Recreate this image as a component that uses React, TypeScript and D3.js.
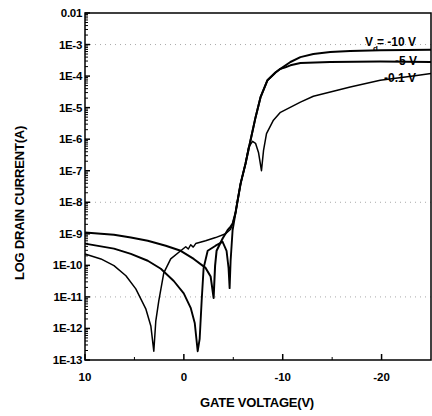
import React from "react";
import * as d3 from "d3";

// Gate voltage (V) and drain current (A) for each drain bias
const vgA = [10, 8.39, 7.07, 5.36, 3.65, 1.83, 0.32, -1.0, -2.2, -2.71, -3.01, -3.16, -3.31, -3.92, -4.42, -4.73,
  -4.93, -5.23, -5.43, -5.74, -6.24, -6.74, -7.25, -7.75, -8.46, -9.27, -9.77, -10.78, -11.79, -13.1, -14.81, -16.83, -19.86, -22.5, -25];
const idA = [1.1e-9, 1.0e-9, 9.3e-10, 7.6e-10, 6.0e-10, 4.2e-10, 2.9e-10, 1.6e-10, 8.3e-11, 4.4e-11, 9.3e-12, 9.8e-11, 2.9e-10, 7.1e-10, 1.3e-9, 1.7e-9,
  2.1e-9, 4.7e-9, 1.1e-8, 3.9e-8, 1.7e-7, 9.1e-7, 4.9e-6, 2.1e-5, 7.4e-5, 1.3e-4, 1.7e-4, 2.8e-4, 4.0e-4, 5.0e-4, 5.8e-4, 6.2e-4, 6.6e-4, 6.7e-4, 6.8e-4];

const vgB = [10, 7.07, 5.36, 3.65, 2.33, 1.02, 0.01, -0.69, -1.1, -1.4, -1.6, -1.8, -2.0, -2.41, -3.21, -3.92, -4.32, -4.52, -4.63, -4.73, -4.93,
  -5.23, -5.43, -5.74, -6.24, -6.74, -7.25, -7.75, -8.46, -9.27, -9.77, -10.27, -10.78, -11.79, -14.81, -19.86, -25];
const idB = [4.9e-10, 3.4e-10, 2.3e-10, 1.4e-10, 7.8e-11, 3.2e-11, 1.3e-11, 4.5e-12, 1.5e-12, 1.9e-13, 4.7e-13, 7.4e-12, 8.3e-11, 2.9e-10, 4.2e-10, 5.6e-10, 2.9e-10, 8.3e-11, 1.9e-11, 1.4e-10, 1.3e-9,
  4.7e-9, 1.1e-8, 3.9e-8, 1.7e-7, 9.1e-7, 4.9e-6, 2.1e-5, 7.4e-5, 1.3e-4, 1.7e-4, 1.9e-4, 2.2e-4, 2.6e-4, 2.8e-4, 2.9e-4, 2.8e-4];

const vgC = [10, 8.39, 7.07, 5.86, 4.86, 3.85, 3.34, 3.04, 2.84, 2.54, 2.03, 1.33, 0.32, -0.19, -0.45, -0.69, -0.95, -1.2, -2.2, -3.21, -4.22, -4.73,
  -4.93, -5.23, -5.43, -5.74, -6.24, -6.54, -6.95, -7.25, -7.55, -7.85, -8.06, -8.36, -9.06, -9.77, -11.79, -13.1, -15.12, -16.83, -19.86, -23.19, -25];
const idC = [2.3e-10, 1.6e-10, 9.8e-11, 4.7e-11, 1.8e-11, 4.2e-12, 1.2e-12, 1.9e-13, 1.7e-12, 7.4e-12, 5.8e-11, 1.6e-10, 2.9e-10, 3.9e-10, 3.3e-10, 4.5e-10, 3.8e-10, 4.9e-10, 6.0e-10, 7.6e-10, 1.0e-9, 1.4e-9,
  2.1e-9, 4.7e-9, 1.1e-8, 3.9e-8, 1.7e-7, 5.5e-7, 8.5e-7, 7.4e-7, 3.8e-7, 1.0e-7, 4.4e-7, 1.5e-6, 4.0e-6, 7.1e-6, 1.5e-5, 2.3e-5, 3.3e-5, 4.5e-5, 7.4e-5, 1.0e-4, 1.2e-4];

const xTicks = [10, 0, -10, -20];
const xMinorTicks = [5, -5, -15];
const yTickVals = [1e-13, 1e-12, 1e-11, 1e-10, 1e-9, 1e-8, 1e-7, 1e-6, 1e-5, 1e-4, 1e-3, 1e-2];
const yTickLabels = ["1E-13", "1E-12", "1E-11", "1E-10", "1E-9", "1E-8", "1E-7", "1E-6", "1E-5", "1E-4", "1E-3", "0.01"];
const gridVals = [1e-3, 1e-8, 1e-11];

const series = [
  { v: vgA, i: idA, w: 2 },
  { v: vgB, i: idB, w: 1.9 },
  { v: vgC, i: idC, w: 1.5 },
];

export default function App() {
  const W = 432, H = 416;
  const L = 85, R = 431, T = 13, B = 360;
  const x = d3.scaleLinear().domain([10, -25]).range([L, R]);
  const y = d3.scaleLog().domain([1e-13, 1e-2]).range([B, T]);
  const line = d3.line<[number, number]>().x(d => x(d[0])).y(d => y(d[1]));

  const minor: number[] = [];
  for (let e = -13; e < -2; e++) {
    for (let m = 2; m <= 9; m++) minor.push(m * Math.pow(10, e));
  }
  const font = "'Liberation Sans', Arial, sans-serif";

  return (
    <svg width={W} height={H} style={{ display: "block", position: "absolute", left: 0, top: 0, background: "#fff" }}
      fontFamily={font} fontWeight="bold">
      <rect width={W} height={H} fill="#fff" />
      {gridVals.map((g, k) => (
        <line key={k} x1={L} x2={R} y1={y(g)} y2={y(g)} stroke="#aaa" strokeWidth={1} strokeDasharray="1,4" />
      ))}
      {series.map((s, k) => (
        <path key={k} d={line(s.v.map((v, j) => [v, s.i[j]] as [number, number])) || ""}
          fill="none" stroke="#000" strokeWidth={s.w} strokeLinejoin="round" />
      ))}
      <rect x={L} y={T} width={R - L} height={B - T} fill="none" stroke="#000" strokeWidth={1.5} />
      {yTickVals.map((t, k) => (
        <g key={k}>
          <line x1={L} x2={L + 5} y1={y(t)} y2={y(t)} stroke="#000" strokeWidth={1.5} />
          <text x={L - 3} y={y(t) + 4} textAnchor="end" fontSize={11.5} letterSpacing={-0.3}>{yTickLabels[k]}</text>
        </g>
      ))}
      {minor.map((t, k) => (
        <line key={k} x1={L} x2={L + 3} y1={y(t)} y2={y(t)} stroke="#000" strokeWidth={1} />
      ))}
      {xTicks.map((t, k) => (
        <g key={k}>
          <line x1={x(t)} x2={x(t)} y1={B} y2={B - 6} stroke="#000" strokeWidth={1.5} />
          <text x={x(t)} y={381} textAnchor="middle" fontSize={11.5}>{t}</text>
        </g>
      ))}
      {xMinorTicks.map((t, k) => (
        <line key={k} x1={x(t)} x2={x(t)} y1={B} y2={B - 3} stroke="#000" strokeWidth={1} />
      ))}
      <text x={257} y={407} textAnchor="middle" fontSize={13} letterSpacing={-0.2}>GATE VOLTAGE(V)</text>
      <text transform="translate(24,203) rotate(-90)" textAnchor="middle" fontSize={13} letterSpacing={-0.2}>LOG DRAIN CURRENT(A)</text>
      <text x={365} y={46} fontSize={12}>V</text>
      <text x={373} y={51} fontSize={8}>d</text>
      <text x={377} y={46} fontSize={12}>= -10 V</text>
      <text x={417} y={65} textAnchor="end" fontSize={12}>-5 V</text>
      <text x={416} y={82} textAnchor="end" fontSize={12}>-0.1 V</text>
    </svg>
  );
}
